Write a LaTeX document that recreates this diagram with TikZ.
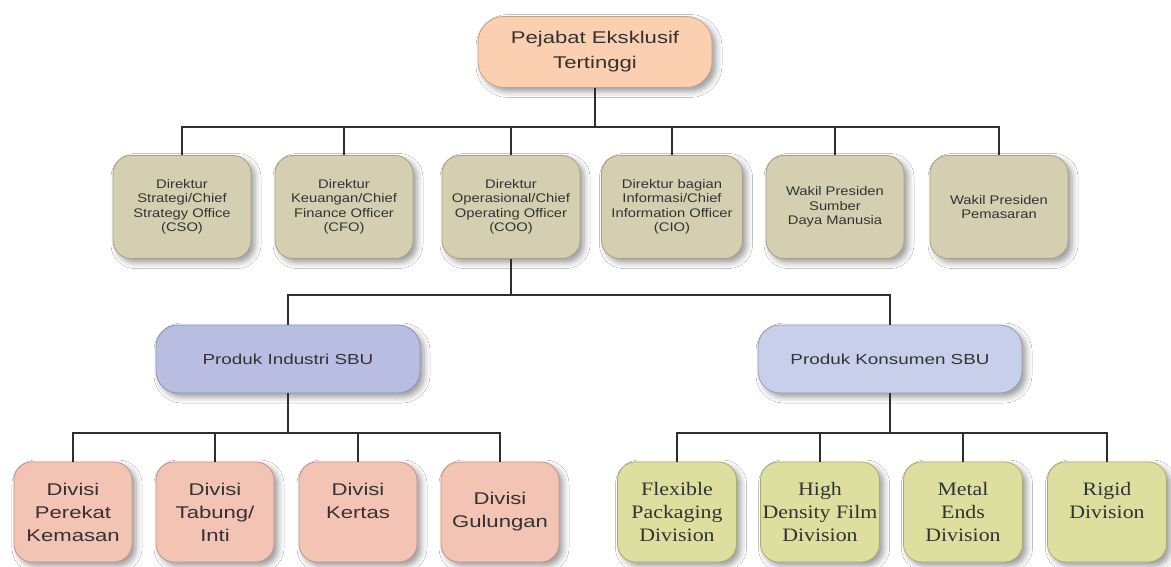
\documentclass[tikz,border=0pt]{standalone}
\usepackage{fontspec}
\setmainfont{Liberation Sans}
\newfontfamily\widesans{Liberation Sans}[FakeStretch=1.3]
\newfontfamily\midsans{Liberation Sans}[FakeStretch=1.18]
\newfontfamily\wideserif{Liberation Serif}[FakeStretch=1.15]
\usetikzlibrary{shadows.blur}

\definecolor{txt}{HTML}{333333}
\definecolor{linkcol}{HTML}{2E2E2E}
\definecolor{peach}{HTML}{FAD0B0}
\definecolor{peachd}{HTML}{C9A385}
\definecolor{khaki}{HTML}{D5CFB1}
\definecolor{khakid}{HTML}{A6A087}
\definecolor{lavender}{HTML}{B9BDE2}
\definecolor{lavenderd}{HTML}{8E92B8}
\definecolor{paleblue}{HTML}{C7CFEA}
\definecolor{paleblued}{HTML}{969DB9}
\definecolor{rosy}{HTML}{F3C3B4}
\definecolor{rosyd}{HTML}{C29688}
\definecolor{olive}{HTML}{DCDF9E}
\definecolor{olived}{HTML}{A9AB74}

\tikzset{
  orgbox/.style={draw, line width=0.8pt, align=center, inner sep=0pt, text=txt,
    blur shadow={shadow xshift=4pt, shadow yshift=-4pt, shadow blur radius=6pt, shadow opacity=40}},
  topbox/.style={orgbox, fill=peach, draw=peachd, minimum width=234pt, minimum height=71pt,
    rounded corners=26pt, font=\widesans\fontsize{17}{25}\selectfont},
  officebox/.style={orgbox, fill=khaki, draw=khakid, minimum width=138pt, minimum height=103pt,
    rounded corners=18pt, font=\midsans\fontsize{12.5}{14.5}\selectfont},
  sbubox/.style={orgbox, minimum width=264pt, minimum height=68pt,
    rounded corners=22pt, font=\widesans\fontsize{14.5}{17}\selectfont},
  divbox/.style={orgbox, fill=rosy, draw=rosyd, minimum width=118pt, minimum height=100pt,
    rounded corners=18pt, font=\widesans\fontsize{17}{23}\selectfont},
  unitbox/.style={orgbox, fill=olive, draw=olived, minimum width=119pt, minimum height=100pt,
    rounded corners=18pt, font=\wideserif\fontsize{19}{23}\selectfont},
  link/.style={draw=linkcol, line width=1.8pt}
}

\begin{document}
\begin{tikzpicture}[x=1pt,y=-1pt]
\useasboundingbox[fill=white] (0,0) rectangle (1171,567);

% junction heights of the three branch levels
\coordinate (lvlA) at (0,127);
\coordinate (lvlB) at (0,295);
\coordinate (lvlC) at (0,433);

% top executive
\node[topbox] (top) at (595,52) {Pejabat Eksklusif\\Tertinggi};

% directors and vice presidents
\node[officebox] (cso) at (182,207) {Direktur\\Strategi/Chief\\Strategy Office\\(CSO)};
\node[officebox] (cfo) at (344,207) {Direktur\\Keuangan/Chief\\Finance Officer\\(CFO)};
\node[officebox] (coo) at (511,207) {Direktur\\Operasional/Chief\\Operating Officer\\(COO)};
\node[officebox, minimum width=141pt] (cio) at (672,207) {Direktur bagian\\Informasi/Chief\\Information Officer\\(CIO)};
\node[officebox] (sdm) at (835,207) {Wakil Presiden\\Sumber\\Daya Manusia};
\node[officebox] (pem) at (999,207) {Wakil Presiden\\Pemasaran};

% strategic business units
\node[sbubox, fill=lavender, draw=lavenderd] (ind) at (288,359) {Produk Industri SBU};
\node[sbubox, fill=paleblue, draw=paleblued] (kon) at (890,359) {Produk Konsumen SBU};

% divisions of the industrial unit
\node[divbox] (d1) at (73,512) {Divisi\\Perekat\\Kemasan};
\node[divbox] (d2) at (215,512) {Divisi\\Tabung/\\Inti};
\node[divbox] (d3) at (358,512) {Divisi\\Kertas\\~};
\node[divbox] (d4) at (500,512) {Divisi\\Gulungan};

% divisions of the consumer unit
\node[unitbox] (r1) at (677,512) {Flexible\\Packaging\\Division};
\node[unitbox] (r2) at (820,512) {High\\Density Film\\Division};
\node[unitbox] (r3) at (963,512) {Metal\\Ends\\Division};
\node[unitbox] (r4) at (1107,512) {Rigid\\Division\\~};

% connectors
\foreach \c in {cso,cfo,coo,cio,sdm,pem}
  \draw[link] (top.south) -- (top.south |- lvlA) -| (\c.north);
\foreach \c in {ind,kon}
  \draw[link] (coo.south) -- (coo.south |- lvlB) -| (\c.north);
\foreach \c in {d1,d2,d3,d4}
  \draw[link] (ind.south) -- (ind.south |- lvlC) -| (\c.north);
\foreach \c in {r1,r2,r3,r4}
  \draw[link] (kon.south) -- (kon.south |- lvlC) -| (\c.north);
\end{tikzpicture}
\end{document}
